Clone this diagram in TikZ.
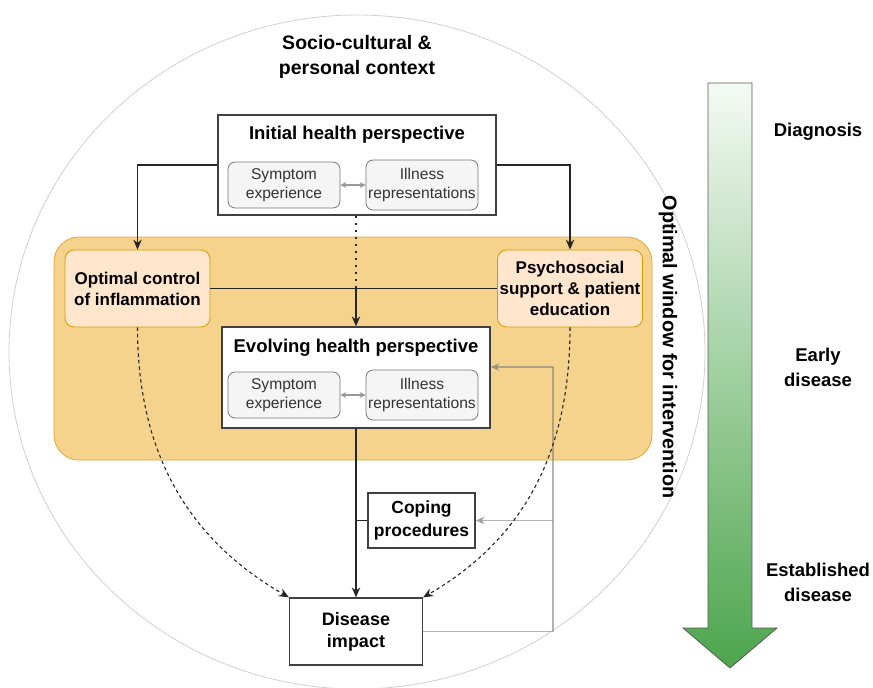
\documentclass[tikz,border=0pt]{standalone}
\usepackage{fontspec}
\setmainfont{Liberation Sans}
\usetikzlibrary{arrows.meta}
\definecolor{winfill}{HTML}{F5D38C}
\definecolor{windraw}{HTML}{E2A53C}
\definecolor{peach}{HTML}{FFE6CC}
\definecolor{peachdraw}{HTML}{D79B00}
\definecolor{innerfill}{HTML}{F5F5F5}
\definecolor{innerdraw}{HTML}{777777}
\definecolor{greentop}{HTML}{F4FAF4}
\definecolor{greenbot}{HTML}{4DA54D}
\definecolor{ctxline}{HTML}{D0D0D0}
\begin{document}
\begin{tikzpicture}[x=1pt,y=-1pt,
  box/.style={draw=black!75, line width=1.3pt, fill=white, inner sep=0pt, align=center,
    font=\bfseries\fontsize{18}{22}\selectfont},
  title/.style={inner sep=0pt, align=center, font=\bfseries\fontsize{18.5}{22}\selectfont},
  subbox/.style={draw=innerdraw, line width=0.8pt, fill=innerfill, rounded corners=7pt,
    minimum width=112pt, inner sep=0pt, align=center, text=black!80,
    font=\fontsize{15.6}{19}\selectfont},
  actbox/.style={draw=peachdraw, line width=0.8pt, fill=peach, rounded corners=9pt,
    minimum width=145pt, minimum height=77pt, inner sep=0pt, align=center,
    font=\bfseries\fontsize{17}{21}\selectfont},
  label/.style={inner sep=0pt, align=center, font=\bfseries\fontsize{18.5}{25}\selectfont},
  arr/.style={line width=1.2pt, black!85, -{Stealth[length=10pt,width=8.5pt]}},
  twoway/.style={line width=1.3pt, black!40, {Stealth[length=6pt,width=6pt]}-{Stealth[length=6pt,width=6pt]}},
  feedback/.style={line width=1.1pt, black!50, opacity=0.6},
  fbarr/.style={feedback, -{Stealth[length=9pt,width=8pt]}},
  influence/.style={line width=1.1pt, black!85, dash pattern=on 3.5pt off 3pt,
    -{Stealth[length=10pt,width=8.5pt]}},
]
\useasboundingbox (0,0) rectangle (873,688);

% context circle
\draw[ctxline, line width=0.8pt] (357,352) ellipse [x radius=348, y radius=337];
\node[label, font=\bfseries\fontsize{19.5}{25}\selectfont] (ctx) at (357,57) {Socio-cultural \&\\personal context};

% window for intervention
\draw[draw=windraw, fill=winfill, line width=0.8pt, rounded corners=25pt] (54,237) rectangle (652,460);
\node[label, rotate=-90, font=\bfseries\fontsize{19.8}{23}\selectfont] (win) at (668,347) {Optimal window for intervention};

% initial perspective
\node[box, minimum width=278pt, minimum height=100pt] (init) at (357,165) {};
\node[title] (initT) at (357,135) {Initial health perspective};
\node[subbox, minimum height=46pt] (initS) at (284,185) {Symptom\\experience};
\node[subbox, minimum height=50pt] (initI) at (422,185) {Illness\\representations};
\draw[twoway] (initS) -- (initI);

% interventions
\node[actbox] (opt) at (137.5,288.5) {Optimal control\\of inflammation};
\node[actbox] (psy) at (570,288.5) {Psychosocial\\support \& patient\\education};

% evolving perspective
\node[box, minimum width=268pt, minimum height=101pt] (evo) at (356,377.5) {};
\node[title] (evoT) at (356,348) {Evolving health perspective};
\node[subbox, minimum height=46pt] (evoS) at (284,395) {Symptom\\experience};
\node[subbox, minimum height=50pt] (evoI) at (422,395) {Illness\\representations};
\draw[twoway] (evoS) -- (evoI);

% coping and impact
\node[box, minimum width=107pt, minimum height=55pt, font=\bfseries\fontsize{17.5}{23}\selectfont] (cop) at (421.5,520.5) {Coping\\procedures};
\node[box, minimum width=133pt, minimum height=67pt] (imp) at (356,631.5) {Disease\\impact};

% connectors
\draw[arr] (init.west) -| (opt.north);
\draw[arr] (init.east) -| (psy.north);
\draw[line width=1.2pt, black!85] (opt.east) -- (psy.west);
\coordinate (join) at (evo.north |- opt.east);
\draw[line width=2pt, black!85, dash pattern=on 2pt off 5pt] (evo.north |- init.south) -- (join);
\draw[arr] (join) -- (evo.north);
\draw[arr] (evo.south) -- (imp.north);
\draw[line width=1.2pt, black!85] (cop.west) -- (cop.west -| evo.south);

% feedback from impact
\coordinate (fbB) at (553,631.5);
\coordinate (fbM) at (553,520.5);
\coordinate (fbT) at (553,367);
\draw[feedback] (imp.east) -- (fbB) -- (fbT);
\draw[fbarr] (fbT) -- (evo.east |- fbT);
\draw[fbarr] (fbM) -- (cop.east);

% influence of interventions on impact
\draw[influence] (opt.south) to[out=-90, in=150] (imp.north west);
\draw[influence] (psy.south) to[out=-90, in=30] (imp.north east);

% disease course
\shadedraw[top color=greentop, bottom color=greenbot, draw=black!65, line width=0.8pt]
  (708,83) -- (752,83) -- (752,628) -- (777,628) -- (730,668) -- (683,628) -- (708,628) -- cycle;
\node[label] (diag) at (818,132) {Diagnosis};
\node[label] (early) at (818,367) {Early\\disease};
\node[label] (estab) at (818,582) {Established\\disease};
\end{tikzpicture}
\end{document}
